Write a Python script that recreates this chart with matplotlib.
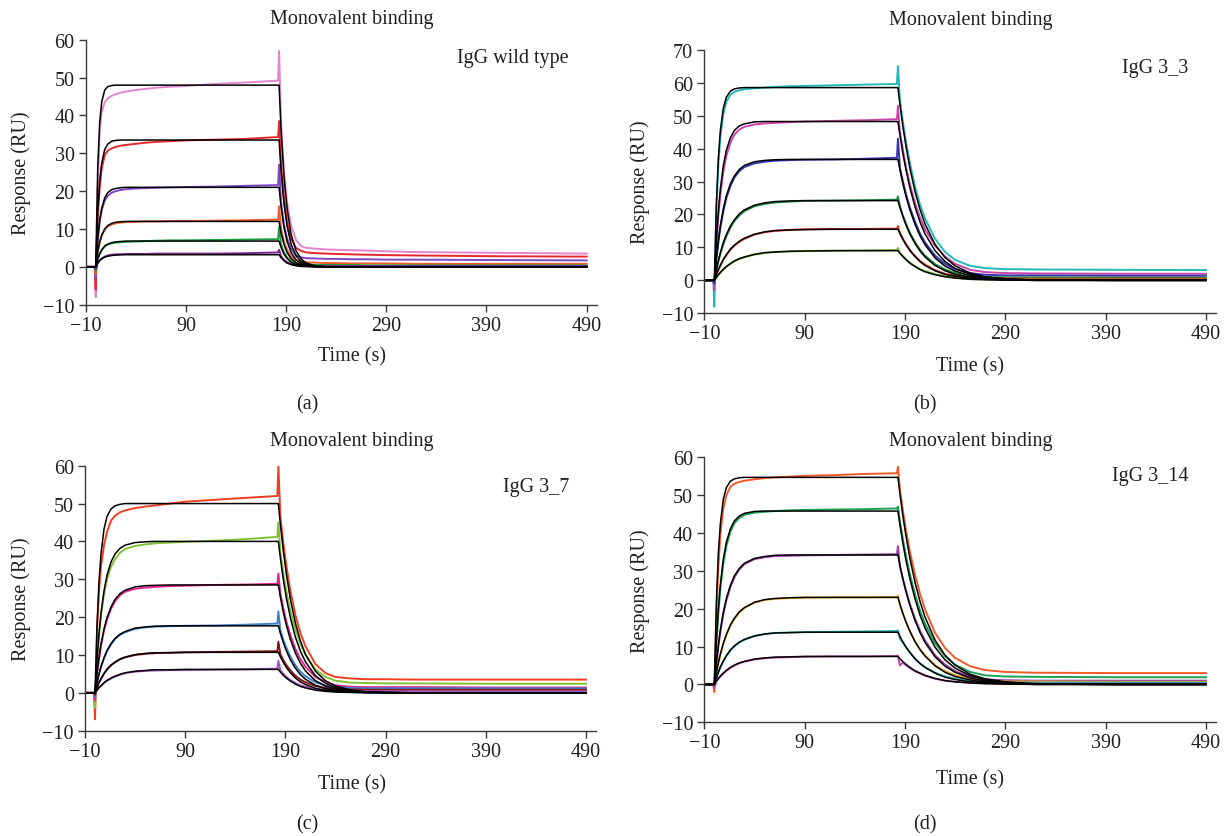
import matplotlib
matplotlib.use("Agg")
import matplotlib.pyplot as plt

# shared time grid (s) for every sensorgram
time_s = [-10, -1, 0, 2, 4, 6, 9, 12, 16, 20, 25, 30, 40, 50, 60, 75, 90, 120, 150, 182,
          183, 185, 188, 191, 195, 200, 205, 210, 220, 230, 240, 255, 270, 290, 320, 400, 490]

x_ticks = [-10, 90, 190, 290, 390, 490]
panel_titles = ["Monovalent binding"] * 4
panel_names = ["IgG wild type", "IgG 3_3", "IgG 3_7", "IgG 3_14"]
panel_letters = ["(a)", "(b)", "(c)", "(d)"]
y_tops = [60, 70, 60, 60]

# (a) IgG wild type
a_fit = [
    [0, 0, 0, 26.4, 38.3, 43.6, 46.7, 47.6, 47.9, 48.0, 48, 48, 48, 48, 48, 48, 48, 48, 48, 48, 48, 36.0, 23.5, 15.3, 8.6, 4.2, 2.1, 1.0, 0.2, 0, 0, 0, 0, 0, 0, 0, 0],
    [0, 0, 0, 14.6, 22.8, 27.5, 31.0, 32.4, 33.2, 33.4, 33.5, 33.5, 33.5, 33.5, 33.5, 33.5, 33.5, 33.5, 33.5, 33.5, 33.5, 25.2, 16.4, 10.7, 6.0, 2.9, 1.4, 0.7, 0.2, 0, 0, 0, 0, 0, 0, 0, 0],
    [0, 0, 0, 7.5, 12.4, 15.5, 18.2, 19.6, 20.4, 20.7, 20.9, 21, 21, 21, 21, 21, 21, 21, 21, 21, 21, 15.8, 10.3, 6.7, 3.8, 1.8, 0.9, 0.4, 0.1, 0, 0, 0, 0, 0, 0, 0, 0],
    [0, 0, 0, 4.0, 6.6, 8.4, 10.0, 10.9, 11.5, 11.8, 11.9, 12, 12, 12, 12, 12, 12, 12, 12, 12, 12, 9.0, 5.9, 3.8, 2.2, 1.1, 0.5, 0.3, 0.1, 0, 0, 0, 0, 0, 0, 0, 0],
    [0, 0, 0, 2.1, 3.5, 4.5, 5.5, 6.0, 6.4, 6.6, 6.7, 6.8, 6.8, 6.8, 6.8, 6.8, 6.8, 6.8, 6.8, 6.8, 6.8, 5.1, 3.3, 2.2, 1.2, 0.6, 0.3, 0.1, 0, 0, 0, 0, 0, 0, 0, 0, 0],
    [0, 0, 0, 1.0, 1.7, 2.1, 2.6, 2.8, 3.0, 3.1, 3.2, 3.2, 3.2, 3.2, 3.2, 3.2, 3.2, 3.2, 3.2, 3.2, 3.2, 2.4, 1.6, 1.0, 0.6, 0.3, 0.1, 0.1, 0, 0, 0, 0, 0, 0, 0, 0, 0],
]
a_data = [
    [0, 0, -8, 20, 36, 41, 43.5, 44.5, 45.2, 45.6, 46.0, 46.3, 46.7, 47.0, 47.3, 47.6, 47.8, 48.3, 48.7, 49.2, 57, 38, 25, 17, 11, 7, 5.5, 5.0, 4.8, 4.6, 4.5, 4.4, 4.3, 4.1, 3.9, 3.7, 3.5],
    [0, 0, -6, 13, 21, 26, 29.5, 30.7, 31.3, 31.7, 32.0, 32.2, 32.5, 32.8, 33.0, 33.2, 33.4, 33.6, 33.8, 34.3, 38.5, 27, 18, 12, 7.5, 5.0, 4.2, 3.8, 3.6, 3.5, 3.4, 3.3, 3.2, 3.1, 3.0, 2.8, 2.7],
    [0, 0, -3, 7, 12, 15, 17.5, 18.8, 19.6, 20.0, 20.3, 20.5, 20.7, 20.8, 20.9, 21.0, 21.1, 21.2, 21.4, 21.6, 27, 17, 11, 7.5, 4.8, 3.0, 2.5, 2.3, 2.2, 2.1, 2.1, 2.0, 2.0, 1.9, 1.9, 1.8, 1.7],
    [0, 0, -2, 4, 6.5, 8.3, 9.8, 10.7, 11.2, 11.5, 11.7, 11.8, 11.9, 12.0, 12.0, 12.1, 12.1, 12.2, 12.3, 12.5, 16, 10, 6.5, 4.5, 2.8, 1.8, 1.4, 1.2, 1.1, 1.0, 1.0, 0.9, 0.9, 0.9, 0.8, 0.8, 0.8],
    [0, 0, -1, 2, 3.4, 4.4, 5.4, 5.9, 6.2, 6.4, 6.5, 6.6, 6.7, 6.8, 6.9, 7.0, 7.0, 7.1, 7.2, 7.3, 10.5, 6, 3.8, 2.5, 1.5, 0.9, 0.7, 0.6, 0.5, 0.5, 0.5, 0.5, 0.4, 0.4, 0.4, 0.4, 0.4],
    [0, 0, -0.5, 1.0, 1.7, 2.2, 2.7, 3.0, 3.2, 3.3, 3.3, 3.4, 3.4, 3.4, 3.5, 3.5, 3.5, 3.5, 3.6, 3.8, 4.5, 2.8, 1.8, 1.2, 0.7, 0.4, 0.3, 0.3, 0.2, 0.2, 0.2, 0.2, 0.2, 0.2, 0.2, 0.2, 0.2],
]
a_colors = ["#e384cf", "#e8262c", "#7e45c4", "#f25c2c", "#1b9c3e", "#7d1f8f"]

# (b) IgG 3_3
b_fit = [
    [0, 0, 0, 23.0, 37.0, 45.5, 52.3, 55.6, 57.4, 58.1, 58.4, 58.5, 58.5, 58.5, 58.5, 58.5, 58.5, 58.5, 58.5, 58.5, 58.5, 53.4, 46.6, 40.7, 33.9, 27.0, 21.5, 17.1, 10.9, 6.9, 4.4, 2.2, 1.1, 0.5, 0.1, 0, 0],
    [0, 0, 0, 12.0, 21.0, 27.8, 34.9, 39.5, 43.3, 45.5, 46.9, 47.5, 48.1, 48.2, 48.2, 48.2, 48.2, 48.2, 48.2, 48.2, 48.2, 44.0, 38.4, 33.5, 28.0, 22.3, 17.7, 14.1, 9.0, 5.7, 3.6, 1.8, 0.9, 0.4, 0.1, 0, 0],
    [0, 0, 0, 6.6, 12.1, 16.6, 21.8, 25.7, 29.3, 31.7, 33.7, 34.9, 36.0, 36.4, 36.6, 36.7, 36.7, 36.7, 36.7, 36.7, 36.7, 33.5, 29.2, 25.5, 21.3, 17.0, 13.5, 10.8, 6.8, 4.3, 2.8, 1.4, 0.7, 0.3, 0.1, 0, 0],
    [0, 0, 0, 3.2, 6.0, 8.4, 11.5, 13.9, 16.5, 18.4, 20.2, 21.4, 22.8, 23.5, 23.9, 24.1, 24.2, 24.2, 24.2, 24.2, 24.2, 22.1, 19.3, 16.8, 14.0, 11.2, 8.9, 7.1, 4.5, 2.9, 1.8, 0.9, 0.5, 0.2, 0, 0, 0],
    [0, 0, 0, 1.7, 3.3, 4.6, 6.4, 7.8, 9.5, 10.7, 11.9, 12.8, 14.0, 14.7, 15.1, 15.3, 15.4, 15.5, 15.5, 15.5, 15.5, 14.2, 12.4, 10.8, 9.0, 7.2, 5.7, 4.5, 2.9, 1.8, 1.2, 0.6, 0.3, 0.1, 0, 0, 0],
    [0, 0, 0, 0.9, 1.7, 2.4, 3.4, 4.2, 5.1, 5.9, 6.6, 7.1, 7.9, 8.4, 8.6, 8.8, 8.9, 9.0, 9.0, 9.0, 9.0, 8.2, 7.2, 6.3, 5.2, 4.2, 3.3, 2.6, 1.7, 1.1, 0.7, 0.3, 0.2, 0.1, 0, 0, 0],
]
b_data = [
    [0, 0, -8, 21, 35, 43.5, 50.5, 54.2, 56.3, 57.2, 57.7, 58.0, 58.3, 58.5, 58.7, 58.9, 59.0, 59.2, 59.4, 59.6, 65, 54.5, 48, 42, 35.5, 28.5, 23, 18.8, 12.6, 8.6, 6.2, 4.4, 3.7, 3.4, 3.3, 3.2, 3.1],
    [0, 0, -3, 11, 19.5, 26, 33, 37.8, 41.8, 44.2, 45.8, 46.6, 47.3, 47.6, 47.8, 48.0, 48.2, 48.4, 48.6, 48.9, 53, 45, 39.5, 34.5, 29, 23.5, 19, 15.5, 10.5, 7.2, 5.0, 3.2, 2.5, 2.2, 2.1, 2.0, 2.0],
    [0, 0, -1, 6.2, 11.5, 16, 21, 25, 28.6, 31.2, 33.2, 34.4, 35.5, 36.0, 36.3, 36.5, 36.6, 36.7, 36.9, 37.2, 43, 34.2, 30, 26.2, 22, 17.8, 14.2, 11.5, 7.5, 5.0, 3.4, 2.2, 1.7, 1.5, 1.5, 1.4, 1.4],
    [0, 0, 0, 3.0, 5.7, 8.0, 11.0, 13.4, 16.0, 18.0, 19.7, 21.0, 22.5, 23.2, 23.6, 23.9, 24.1, 24.2, 24.3, 24.5, 25.5, 22.5, 19.6, 17.2, 14.4, 11.6, 9.3, 7.5, 4.9, 3.3, 2.2, 1.3, 1.0, 0.9, 0.9, 0.8, 0.8],
    [0, 0, 0, 1.5, 3.1, 4.4, 6.2, 7.6, 9.3, 10.5, 11.7, 12.6, 13.9, 14.6, 15.0, 15.3, 15.5, 15.6, 15.6, 15.7, 16.5, 14.4, 12.6, 11.0, 9.2, 7.4, 5.9, 4.8, 3.1, 2.0, 1.4, 0.8, 0.6, 0.6, 0.5, 0.5, 0.5],
    [0, 0, 0, 0.8, 1.6, 2.3, 3.3, 4.1, 5.0, 5.8, 6.5, 7.0, 7.8, 8.3, 8.6, 8.8, 8.9, 9.0, 9.1, 9.2, 9.8, 8.3, 7.3, 6.4, 5.3, 4.3, 3.4, 2.8, 1.9, 1.2, 0.8, 0.4, 0.3, 0.3, 0.2, 0.2, 0.2],
]
b_colors = ["#22b8b8", "#cc44aa", "#3535b0", "#1e8a40", "#e4391e", "#6cbb2c"]

# (c) IgG 3_7
c_fit = [
    [0, 0, 0, 18.0, 29.5, 36.8, 43.3, 46.6, 48.6, 49.4, 49.8, 50.0, 50, 50, 50, 50, 50, 50, 50, 50, 50, 44.5, 37.3, 31.3, 24.7, 18.4, 13.7, 10.2, 5.7, 3.2, 1.8, 0.8, 0.3, 0.1, 0, 0, 0],
    [0, 0, 0, 8.8, 15.7, 21.1, 27.0, 31.1, 34.6, 36.7, 38.2, 39.0, 39.7, 39.9, 40, 40, 40, 40, 40, 40, 40, 35.6, 29.8, 25.0, 19.8, 14.7, 11.0, 8.2, 4.5, 2.5, 1.4, 0.6, 0.2, 0.1, 0, 0, 0],
    [0, 0, 0, 5.2, 9.4, 12.9, 16.9, 19.9, 22.7, 24.7, 26.2, 27.1, 28.0, 28.3, 28.4, 28.5, 28.5, 28.5, 28.5, 28.5, 28.5, 25.3, 21.2, 17.8, 14.1, 10.5, 7.8, 5.8, 3.2, 1.8, 1.0, 0.4, 0.2, 0.1, 0, 0, 0],
    [0, 0, 0, 2.7, 5.0, 7.0, 9.3, 11.2, 13.0, 14.4, 15.5, 16.2, 17.1, 17.4, 17.6, 17.7, 17.7, 17.7, 17.7, 17.7, 17.7, 15.7, 13.2, 11.1, 8.7, 6.5, 4.8, 3.6, 2.0, 1.1, 0.6, 0.3, 0.1, 0, 0, 0, 0],
    [0, 0, 0, 1.4, 2.7, 3.7, 5.1, 6.2, 7.3, 8.1, 8.9, 9.4, 10.1, 10.4, 10.6, 10.6, 10.7, 10.7, 10.7, 10.7, 10.7, 9.5, 8.0, 6.7, 5.3, 3.9, 2.9, 2.2, 1.2, 0.7, 0.4, 0.2, 0.1, 0, 0, 0, 0],
    [0, 0, 0, 0.7, 1.4, 1.9, 2.7, 3.3, 3.9, 4.4, 4.9, 5.3, 5.7, 5.9, 6.1, 6.1, 6.2, 6.2, 6.2, 6.2, 6.2, 5.5, 4.6, 3.9, 3.1, 2.3, 1.7, 1.3, 0.7, 0.4, 0.2, 0.1, 0, 0, 0, 0, 0],
]
c_data = [
    [0, 0, -7, 16, 27, 33.5, 39, 42.5, 45.5, 46.8, 47.7, 48.2, 48.8, 49.2, 49.5, 50.0, 50.5, 51.0, 51.5, 52.0, 60, 46.5, 39.5, 33.5, 27, 20.5, 15.8, 12.3, 7.6, 5.2, 4.2, 3.8, 3.6, 3.6, 3.5, 3.5, 3.5],
    [0, 0, -4, 8.5, 15, 20.5, 26, 30, 33.3, 35.3, 37.0, 38.0, 38.8, 39.2, 39.5, 39.7, 39.9, 40.2, 40.6, 41.2, 45, 37, 31.5, 26.8, 21.7, 16.6, 12.8, 10.0, 6.2, 4.2, 3.2, 2.7, 2.6, 2.5, 2.5, 2.4, 2.4],
    [0, 0, -2, 5.0, 9.0, 12.5, 16.5, 19.4, 22.2, 24.2, 25.8, 26.7, 27.5, 27.8, 28.0, 28.2, 28.3, 28.5, 28.6, 28.8, 31.5, 26.2, 22.2, 18.8, 15.2, 11.6, 8.9, 6.9, 4.2, 2.8, 2.0, 1.6, 1.5, 1.5, 1.5, 1.4, 1.4],
    [0, 0, -1, 2.6, 4.9, 6.8, 9.1, 11.0, 12.8, 14.2, 15.3, 16.0, 16.9, 17.3, 17.5, 17.6, 17.7, 17.8, 18.0, 18.3, 21.5, 16.5, 14.0, 11.9, 9.6, 7.3, 5.6, 4.4, 2.8, 1.9, 1.5, 1.3, 1.2, 1.2, 1.2, 1.2, 1.2],
    [0, 0, -0.5, 1.4, 2.7, 3.7, 5.1, 6.2, 7.3, 8.1, 8.9, 9.4, 10.0, 10.3, 10.5, 10.6, 10.7, 10.8, 10.9, 11.0, 13.5, 10.2, 8.6, 7.3, 5.9, 4.5, 3.5, 2.8, 1.8, 1.3, 1.0, 0.9, 0.8, 0.8, 0.8, 0.8, 0.8],
    [0, 0, 0, 0.7, 1.3, 1.8, 2.6, 3.2, 3.8, 4.3, 4.8, 5.2, 5.6, 5.8, 5.9, 6.0, 6.0, 6.1, 6.2, 6.4, 8.5, 6.0, 5.0, 4.2, 3.4, 2.6, 2.0, 1.6, 1.0, 0.7, 0.5, 0.4, 0.4, 0.4, 0.4, 0.3, 0.3],
]
c_colors = ["#f23e20", "#7fc233", "#e2228c", "#3d80cc", "#8c1212", "#a455c4"]

# (d) IgG 3_14
d_fit = [
    [0, 0, 0, 21.5, 34.6, 42.5, 49.0, 52.0, 53.7, 54.3, 54.6, 54.7, 54.7, 54.7, 54.7, 54.7, 54.7, 54.7, 54.7, 54.7, 54.7, 50.3, 44.4, 39.2, 33.2, 27.0, 21.9, 17.8, 11.7, 7.7, 5.1, 2.7, 1.5, 0.7, 0.2, 0, 0],
    [0, 0, 0, 11.4, 19.9, 26.4, 33.2, 37.6, 41.1, 43.2, 44.5, 45.2, 45.7, 45.8, 45.8, 45.8, 45.8, 45.8, 45.8, 45.8, 45.8, 42.1, 37.2, 32.8, 27.8, 22.6, 18.3, 14.9, 9.8, 6.5, 4.3, 2.3, 1.2, 0.5, 0.1, 0, 0],
    [0, 0, 0, 5.7, 10.4, 14.4, 19.1, 22.7, 26.2, 28.7, 30.7, 32.0, 33.3, 33.8, 34.1, 34.2, 34.2, 34.2, 34.2, 34.2, 34.2, 31.5, 27.8, 24.5, 20.8, 16.9, 13.7, 11.1, 7.3, 4.8, 3.2, 1.7, 0.9, 0.4, 0.1, 0, 0],
    [0, 0, 0, 3.1, 5.7, 8.0, 10.9, 13.2, 15.7, 17.5, 19.2, 20.3, 21.7, 22.4, 22.7, 22.9, 23.0, 23.0, 23.0, 23.0, 23.0, 21.2, 18.7, 16.5, 14.0, 11.3, 9.2, 7.5, 4.9, 3.2, 2.1, 1.2, 0.6, 0.3, 0.1, 0, 0],
    [0, 0, 0, 1.7, 3.2, 4.6, 6.2, 7.6, 9.1, 10.2, 11.2, 11.9, 12.8, 13.3, 13.6, 13.7, 13.8, 13.8, 13.8, 13.8, 13.8, 12.7, 11.2, 9.9, 8.4, 6.8, 5.5, 4.5, 3.0, 1.9, 1.3, 0.7, 0.4, 0.2, 0, 0, 0],
    [0, 0, 0, 0.8, 1.6, 2.2, 3.0, 3.7, 4.5, 5.1, 5.7, 6.1, 6.7, 7.0, 7.2, 7.3, 7.4, 7.4, 7.4, 7.4, 7.4, 6.8, 6.0, 5.3, 4.5, 3.6, 3.0, 2.4, 1.6, 1.0, 0.7, 0.4, 0.2, 0.1, 0, 0, 0],
]
d_data = [
    [0, 0, -2, 18, 31, 39.5, 46.5, 50.0, 52.2, 53.0, 53.5, 53.8, 54.2, 54.5, 54.7, 54.9, 55.1, 55.3, 55.6, 55.8, 57.5, 51.5, 45.8, 40.8, 35.0, 29.0, 24.0, 19.8, 13.6, 9.6, 7.0, 4.8, 3.8, 3.3, 3.1, 3.0, 3.0],
    [0, 0, -1, 10.5, 18.8, 25.2, 32.0, 36.6, 40.3, 42.6, 44.0, 44.8, 45.4, 45.6, 45.8, 46.0, 46.1, 46.2, 46.3, 46.5, 47, 43, 38.3, 34.0, 29.0, 23.8, 19.5, 16.0, 10.9, 7.5, 5.2, 3.3, 2.4, 2.1, 2.0, 1.9, 1.9],
    [0, 0, -0.5, 5.3, 9.9, 13.9, 18.6, 22.2, 25.7, 28.3, 30.4, 31.8, 33.1, 33.6, 33.9, 34.0, 34.1, 34.2, 34.3, 34.4, 36.5, 31.0, 27.8, 24.8, 21.2, 17.4, 14.2, 11.6, 7.7, 5.2, 3.5, 2.0, 1.3, 1.1, 1.0, 1.0, 1.0],
    [0, 0, 0, 3.0, 5.6, 7.8, 10.7, 13.0, 15.5, 17.3, 19.0, 20.2, 21.6, 22.3, 22.6, 22.8, 22.9, 23.0, 23.0, 23.1, 23.5, 21.0, 18.6, 16.5, 14.0, 11.4, 9.3, 7.7, 5.1, 3.5, 2.4, 1.5, 1.0, 0.8, 0.8, 0.7, 0.7],
    [0, 0, 0, 1.6, 3.1, 4.5, 6.1, 7.5, 9.0, 10.1, 11.1, 11.8, 12.8, 13.3, 13.6, 13.7, 13.8, 13.9, 14.0, 14.1, 14.3, 12.0, 11.0, 9.8, 8.4, 6.8, 5.6, 4.6, 3.1, 2.1, 1.5, 0.9, 0.6, 0.5, 0.5, 0.5, 0.5],
    [0, 0, -1, 0.8, 1.5, 2.1, 2.9, 3.6, 4.4, 5.0, 5.6, 6.0, 6.6, 6.9, 7.1, 7.2, 7.3, 7.4, 7.4, 7.5, 7.6, 5.0, 5.8, 5.1, 4.3, 3.5, 2.9, 2.3, 1.5, 1.0, 0.7, 0.4, 0.3, 0.2, 0.2, 0.2, 0.2],
]
d_colors = ["#f25a2a", "#1ba152", "#9c3ca8", "#f2a222", "#22b2b2", "#c444b2"]

W, H = 1228, 837
FONT = ["Liberation Serif", "DejaVu Serif"]
FS = 14.5
TXT = "#231f20"


def fx(px):
    return px / W


def fy(py):
    return 1 - py / H


def draw_panel(fig, box, fits, data, colors, y_top):
    left, top, right, bottom = box
    ax = fig.add_axes([fx(left), fy(bottom), fx(right - left), (bottom - top) / H])
    for ys, c in zip(data, colors):
        ax.plot(time_s, ys, color=c, lw=1.4, solid_joinstyle="round")
    for ys in fits:
        ax.plot(time_s, ys, color="black", lw=1.1)
    ax.set_xlim(-10, 500)
    ax.set_ylim(-10, y_top)
    ax.set_xticks(x_ticks)
    ax.set_yticks(range(-10, y_top + 1, 10))
    for s in ["top", "right"]:
        ax.spines[s].set_visible(False)
    for s in ["left", "bottom"]:
        ax.spines[s].set_color("#3a3a3a")
        ax.spines[s].set_linewidth(1.0)
    ax.tick_params(direction="out", length=5, width=1.0, color="#3a3a3a",
                   labelsize=FS, labelcolor=TXT, pad=3)
    for lab in ax.get_xticklabels() + ax.get_yticklabels():
        lab.set_family(FONT)
    return ax


fig = plt.figure(figsize=(W / 100, H / 100), dpi=100)

boxes = [(85.7, 40.7, 596.7, 305.7), (704.3, 50.7, 1216, 314.3),
         (85.0, 466.7, 596.0, 731.7), (704.3, 458.3, 1216, 723.3)]
all_fits = [a_fit, b_fit, c_fit, d_fit]
all_data = [a_data, b_data, c_data, d_data]
all_colors = [a_colors, b_colors, c_colors, d_colors]

# text anchor positions (pixels): title y, xlabel y, letter y, ylabel x, center x, name (right x, y)
title_y = [19.5, 20, 441.7, 441.7]
xlabel_y = [356.7, 366.7, 785, 780]
letter_pos = [(307, 405), (925, 405), (307, 825), (925, 825)]
ylabel_x = [21.5, 639.7, 21.5, 639.7]
center_x = [352, 970.5, 352, 970.5]
name_pos = [(569, 59), (1188, 69), (569, 488), (1188, 477)]

for i in range(4):
    draw_panel(fig, boxes[i], all_fits[i], all_data[i], all_colors[i], y_tops[i])
    top, bottom = boxes[i][1], boxes[i][3]
    fig.text(fx(center_x[i]), fy(title_y[i]), panel_titles[i], ha="center", va="center",
             family=FONT, fontsize=FS, color=TXT)
    fig.text(fx(center_x[i]), fy(xlabel_y[i]), "Time (s)", ha="center", va="center",
             family=FONT, fontsize=FS, color=TXT)
    fig.text(fx(ylabel_x[i]), fy((top + bottom) / 2), "Response (RU)", ha="center", va="center",
             rotation=90, family=FONT, fontsize=FS, color=TXT)
    fig.text(fx(letter_pos[i][0]), fy(letter_pos[i][1]), panel_letters[i], ha="center", va="center",
             family=FONT, fontsize=FS, color=TXT)
    fig.text(fx(name_pos[i][0]), fy(name_pos[i][1]), panel_names[i], ha="right", va="center",
             family=FONT, fontsize=FS, color=TXT)

fig.savefig("out.png", dpi=100)
